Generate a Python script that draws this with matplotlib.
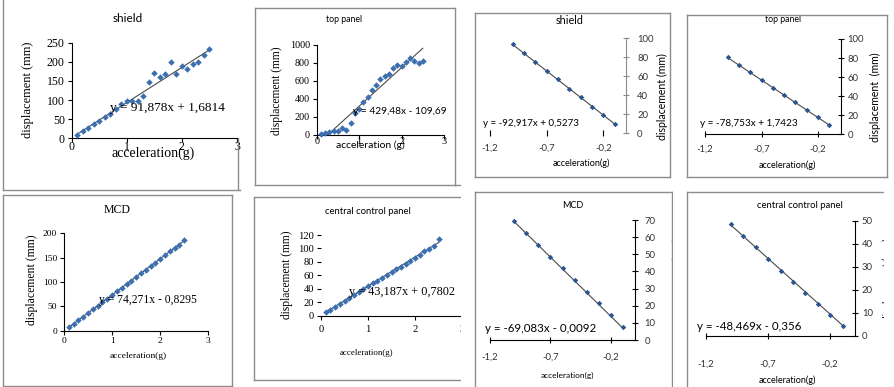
import matplotlib
matplotlib.use("Agg")
import matplotlib.pyplot as plt
from matplotlib.patches import Rectangle
from matplotlib.lines import Line2D

W, H = 894, 387

# ---------------- data ----------------
acc_pos = [0.1, 0.2, 0.3, 0.4, 0.5, 0.6, 0.7, 0.8, 0.9, 1.0, 1.1, 1.2, 1.3,
           1.4, 1.5, 1.6, 1.7, 1.8, 1.9, 2.0, 2.1, 2.2, 2.3, 2.4, 2.5]

shield_disp = [9, 19, 28, 37, 46, 55, 63, 76, 89, 97, 98, 98, 111, 148, 172,
               159, 168, 199, 167, 190, 181, 193, 199, 219, 233]
top_disp = [7, 19, 30, 44, 48, 74, 52, 130, 241, 293, 367, 426, 496, 556, 619,
            656, 674, 741, 774, 770, 811, 856, 819, 800, 826]
mcd_disp = [8, 14, 22, 29, 36, 44, 51, 59, 66, 73, 81, 88, 96, 103, 111, 118,
            125, 133, 140, 148, 155, 163, 170, 177, 186]
ccp_disp = [5, 8.5, 13, 17.5, 22, 26.5, 31, 35.5, 39.5, 44, 48, 52, 56.5,
            60.5, 65, 69, 73, 77.5, 82, 86.5, 91, 95.5, 99.5, 104, 113.5]

acc_neg = [-1.0, -0.9, -0.8, -0.7, -0.6, -0.5, -0.4, -0.3, -0.2, -0.1]
shield_neg = [94, 85, 75, 66, 57, 47, 38, 28, 19, 10]
top_neg = [81, 73, 65, 57, 49, 41, 34, 26, 18, 10]
mcd_neg = [69.5, 62.3, 55.4, 48.6, 41.8, 35.0, 28.2, 21.4, 14.5, 7.6]
ccp_neg = [48.5, 43.5, 38.4, 33.3, 28.3, 23.4, 18.6, 13.8, 9.0, 4.2]

# trendline coefficients (slope, intercept)
fit_shield = (91.878, 1.6814)
fit_top = (429.48, -109.69)
fit_mcd = (74.271, -0.8295)
fit_ccp = (43.187, 0.7802)
fit_shield_neg = (-92.917, 0.5273)
fit_top_neg = (-78.753, 1.7423)
fit_mcd_neg = (-69.083, -0.0092)
fit_ccp_neg = (-48.469, -0.356)

eq_shield = "y = 91,878x + 1,6814"
eq_top = "y = 429,48x - 109,69"
eq_mcd = "y = 74,271x - 0,8295"
eq_ccp = "y = 43,187x + 0,7802"
eq_shield_neg = "y = -92,917x + 0,5273"
eq_top_neg = "y = -78,753x + 1,7423"
eq_mcd_neg = "y = -69,083x - 0,0092"
eq_ccp_neg = "y = -48,469x - 0,356"

pos_ticks = [0, 1, 2, 3]
pos_tick_labels = ["0", "1", "2", "3"]
neg_ticks = [-1.2, -0.7, -0.2]
neg_tick_labels = ["-1,2", "-0,7", "-0,2"]

SERIF = "Liberation Serif"
SANS = "Lato"
MARK = "#3b6fb0"
MARK_DARK = "#2c5491"
TREND = "#4a4a4a"
BORDER = "#8c8c8c"

fig = plt.figure(figsize=(W / 100, H / 100), dpi=100)
fig.patch.set_facecolor("white")


def fx(x):
    return x / W


def fy(y):
    return 1 - y / H


def add_ax(x0, x1, ytop, ybot):
    return fig.add_axes([fx(x0), fy(ybot), (x1 - x0) / W, (ybot - ytop) / H])


def ftext(x, y, s, size, family, **kw):
    kw.setdefault("ha", "center")
    kw.setdefault("va", "center")
    return fig.text(fx(x), fy(y), s, fontsize=size, family=family, **kw)


def hline(x0, x1, y, color=BORDER, lw=1.0):
    fig.add_artist(Line2D([fx(x0), fx(x1)], [fy(y), fy(y)], color=color, lw=lw,
                          transform=fig.transFigure, zorder=5))


def vline(x, y0, y1, color=BORDER, lw=1.0):
    fig.add_artist(Line2D([fx(x), fx(x)], [fy(y0), fy(y1)], color=color, lw=lw,
                          transform=fig.transFigure, zorder=5))


def box(x0, y0, x1, y1, sides="ltrb"):
    if "l" in sides:
        vline(x0, y0, y1)
    if "r" in sides:
        vline(x1, y0, y1)
    if "t" in sides:
        hline(x0, x1, y0)
    if "b" in sides:
        hline(x0, x1, y1)


def left_panel(ax, x, y, fit, ymax, ystep, tick_size, xpad, yaxis_line=True):
    ax.set_xlim(0, 3)
    ax.set_ylim(0, ymax)
    ax.patch.set_alpha(0)
    xs = [x[0], x[-1]]
    ax.plot(xs, [fit[0] * v + fit[1] for v in xs], color=TREND, lw=0.8, zorder=2)
    ax.plot(x, y, linestyle="none", marker="D", ms=3.3, color=MARK,
            markeredgewidth=0, zorder=3, clip_on=False)
    ax.set_xticks(pos_ticks)
    ax.set_xticklabels(pos_tick_labels)
    ax.set_yticks(list(range(0, ymax + 1, ystep)))
    for s in ("top", "right"):
        ax.spines[s].set_visible(False)
    ax.spines["left"].set_visible(yaxis_line)
    for s in ("left", "bottom"):
        ax.spines[s].set_linewidth(0.8)
    ax.tick_params(axis="both", direction="out", length=3, width=0.8,
                   labelsize=tick_size, pad=2)
    ax.tick_params(axis="x", pad=xpad)
    for lab in ax.get_xticklabels() + ax.get_yticklabels():
        lab.set_family(SERIF)


def right_panel(ax, x, y, fit, ymax, ystep, xpad, ypad, xaxis_line=True,
                ycolor="black"):
    ax.set_xlim(-1.2, 0)
    ax.set_ylim(0, ymax)
    ax.patch.set_alpha(0)
    xs = [x[0], x[-1]]
    ax.plot(xs, [fit[0] * v + fit[1] for v in xs], color=TREND, lw=0.8, zorder=2)
    ax.plot(x, y, linestyle="none", marker="D", ms=2.8, color=MARK_DARK,
            markeredgewidth=0, zorder=3, clip_on=False)
    ax.set_xticks(neg_ticks)
    ax.set_xticklabels(neg_tick_labels)
    ax.set_yticks(list(range(0, ymax + 1, ystep)))
    ax.yaxis.tick_right()
    for s in ("top", "left"):
        ax.spines[s].set_visible(False)
    ax.spines["bottom"].set_visible(xaxis_line)
    ax.spines["right"].set_color(ycolor)
    for s in ("right", "bottom"):
        ax.spines[s].set_linewidth(0.8)
    ax.tick_params(axis="x", direction="inout", length=5, width=0.8,
                   labelsize=6.8, pad=xpad, labelcolor="#333333")
    ax.tick_params(axis="y", direction="inout", length=4, width=0.8,
                   labelsize=6.8, pad=ypad, labelcolor="#333333", color=ycolor)
    for lab in ax.get_xticklabels() + ax.get_yticklabels():
        lab.set_family(SANS)


# ---------------- panel frames ----------------
vline(3, 0, 190)
hline(3, 240, 190)
vline(238, 138, 190)
box(255, 8, 455, 185)
hline(455, 460, 185)
box(475, 13, 670, 177)
box(687, 15, 887, 177)
box(3, 195, 232, 386)
box(254, 197, 470, 380, sides="ltb")
box(475, 192, 672, 390, sides="ltr")
box(687, 192, 900, 390, sides="lt")

# ---------------- shield (positive acceleration) ----------------
ax1 = add_ax(71.7, 237, 42.7, 138.3)
left_panel(ax1, acc_pos, shield_disp, fit_shield, 250, 50, 8.5, xpad=-1.2)
ftext(128, 19, "shield", 8.5, SANS)
ftext(28, 90, "displacement (mm)", 9, SERIF, rotation=90)
ftext(153, 153, "acceleration(g)", 10, SERIF)
ftext(110, 108, eq_shield, 9.5, SERIF, ha="left")

# ---------------- top panel (positive acceleration) ----------------
ax2 = add_ax(316.7, 444, 45, 135)
left_panel(ax2, acc_pos, top_disp, fit_top, 1000, 200, 7.3, xpad=-1.5)
ftext(344, 20, "top panel", 6.3, SANS)
ftext(277, 91, "displacement (mm)", 8.3, SERIF, rotation=90)
ftext(370, 145, "acceleration (g)", 7.5, SANS)
ftext(353, 112, eq_top, 7.3, SANS, ha="left")

# ---------------- MCD (positive acceleration) ----------------
ax5 = add_ax(64, 208.3, 233.3, 330.7)
left_panel(ax5, acc_pos, mcd_disp, fit_mcd, 200, 50, 6.8, xpad=1.4)
ftext(117, 210, "MCD", 8.5, SERIF)
ftext(32, 280, "displacement (mm)", 8.5, SERIF, rotation=90)
ftext(138, 356, "acceleration(g)", 6.8, SERIF)
ftext(99, 300, eq_mcd, 8.4, SERIF, ha="left")

# ---------------- central control panel (positive acceleration) ----------------
ax6 = add_ax(321, 462, 235, 315.7)
left_panel(ax6, acc_pos, ccp_disp, fit_ccp, 120, 20, 7.6, xpad=3.6,
           yaxis_line=False)
ftext(368, 212, "central control panel", 6.8, SANS)
ftext(287, 275, "displacement (mm)", 8.3, SERIF, rotation=90)
ftext(367, 353, "acceleration(g)", 6.4, SERIF)
ftext(349, 292, eq_ccp, 8.8, SERIF, ha="left")

# ---------------- shield (negative acceleration) ----------------
ax3 = add_ax(490, 626, 38.3, 133.3)
right_panel(ax3, acc_neg, shield_neg, fit_shield_neg, 100, 20, xpad=4.7, ypad=6,
            xaxis_line=False, ycolor="#8a8a8a")
ftext(570, 20, "shield", 7.8, SANS)
ftext(662, 97, "displacement (mm)", 7.6, SANS, rotation=90)
ftext(581, 163, "acceleration(g)", 6.5, SANS)
ftext(483, 123, eq_shield_neg, 7, SANS, ha="left")

# ---------------- top panel (negative acceleration) ----------------
ax4 = add_ax(705, 840.7, 39, 134.3)
right_panel(ax4, acc_neg, top_neg, fit_top_neg, 100, 20, xpad=4.7, ypad=3)
ftext(783, 19, "top panel", 6.3, SANS)
ftext(875, 97, "displacement  (mm)", 7.6, SANS, rotation=90)
ftext(787, 165, "acceleration(g)", 6.5, SANS)
ftext(700, 124, eq_top_neg, 7.2, SANS, ha="left")

# ---------------- MCD (negative acceleration) ----------------
ax7 = add_ax(490, 635, 220, 340)
right_panel(ax7, acc_neg, mcd_neg, fit_mcd_neg, 70, 10, xpad=6.8, ypad=5)
ftext(573, 205, "MCD", 6.5, SANS)
ftext(677, 280, "displacement (mm)", 7.2, SANS, rotation=90)
ftext(567, 375, "acceleration(g)", 6, SANS)
ftext(485, 328, eq_mcd_neg, 8.3, SANS, ha="left")

# ---------------- central control panel (negative acceleration) ----------------
ax8 = add_ax(706, 855, 220.7, 335.7)
right_panel(ax8, acc_neg, ccp_neg, fit_ccp_neg, 50, 10, xpad=15, ypad=3)
ftext(800, 205, "central control panel", 6.8, SANS)
ftext(887, 280, "displacement (mm)", 7.2, SANS, rotation=90)
ftext(787, 380, "acceleration(g)", 6.5, SANS)
ftext(697, 327, eq_ccp_neg, 8.3, SANS, ha="left")

# white strips trimming the clipped edges of the lower charts
for x0, x1 in ((461, 474), (673, 686), (884, 900)):
    fig.add_artist(Rectangle((fx(x0), fy(H + 5)), (x1 - x0) / W, (H + 5 - 189) / H,
                             transform=fig.transFigure, facecolor="white",
                             edgecolor="none", zorder=20))

fig.savefig("out.png", dpi=100, facecolor="white")
